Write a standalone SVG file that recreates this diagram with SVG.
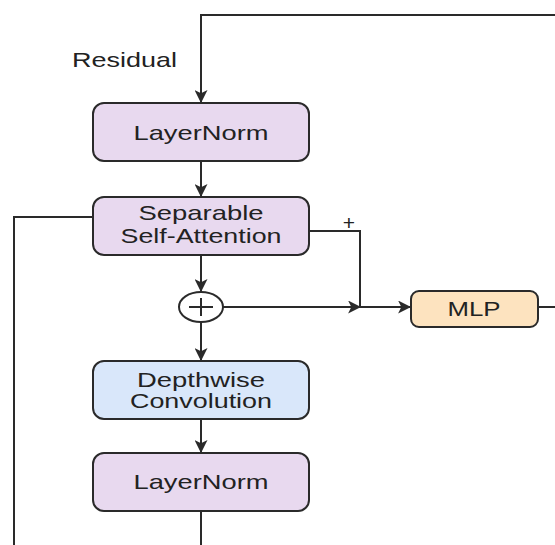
<svg xmlns="http://www.w3.org/2000/svg" width="555" height="545" viewBox="0 0 555 545">
<style>
.box{stroke:#2a2a2a;stroke-width:2}
.ln{fill:#e8d9ef}
.dw{fill:#d9e7fa}
.mlp{fill:#fde3bf}
.t{font-family:"Liberation Sans",Arial,sans-serif;font-size:21px;fill:#222222;text-anchor:middle}
.c{fill:none;stroke:#2a2a2a;stroke-width:2}
</style>
<defs>
<marker id="ah" viewBox="0 0 12 12" refX="11" refY="6" markerWidth="13" markerHeight="13" markerUnits="userSpaceOnUse" orient="auto">
<path d="M0,0 L12,6 L0,12 L3,6 Z" fill="#2a2a2a"/>
</marker>
</defs>
<g id="connectors">
<path class="c" d="M555,15 H201 V102" marker-end="url(#ah)"/>
<path class="c" d="M201,161 V196" marker-end="url(#ah)"/>
<path class="c" d="M201,255 V291" marker-end="url(#ah)"/>
<path class="c" d="M201,322 V360" marker-end="url(#ah)"/>
<path class="c" d="M201,419 V452" marker-end="url(#ah)"/>
<path class="c" d="M201,511 V545"/>
<path class="c" d="M93,217 H14 V545"/>
<path class="c" d="M309,231 H360 V307"/>
<path class="c" d="M223,307 H360" marker-end="url(#ah)"/>
<path class="c" d="M360,307 H410" marker-end="url(#ah)"/>
<path class="c" d="M538,307 H555"/>
</g>
<g id="residual-label">
<text class="t" x="124.5" y="67" textLength="105" lengthAdjust="spacingAndGlyphs">Residual</text>
</g>
<g id="plus-label">
<text class="t" x="349" y="230" font-size="20">+</text>
</g>
<g id="layernorm1">
<rect class="box ln" x="93" y="103" width="216" height="58" rx="11"/>
<text class="t" x="201" y="140" textLength="135" lengthAdjust="spacingAndGlyphs">LayerNorm</text>
</g>
<g id="attention">
<rect class="box ln" x="93" y="197" width="216" height="58" rx="11"/>
<text class="t" x="201" y="220" textLength="125" lengthAdjust="spacingAndGlyphs">Separable</text>
<text class="t" x="201" y="243" textLength="161" lengthAdjust="spacingAndGlyphs">Self-Attention</text>
</g>
<g id="add">
<ellipse cx="201" cy="307" rx="22" ry="15" fill="#ffffff" stroke="#2a2a2a" stroke-width="2"/>
<path d="M189,307 H213 M201,298 V316" stroke="#2a2a2a" stroke-width="2" fill="none"/>
</g>
<g id="depthwise">
<rect class="box dw" x="93" y="361" width="216" height="58" rx="11"/>
<text class="t" x="201" y="387" textLength="128" lengthAdjust="spacingAndGlyphs">Depthwise</text>
<text class="t" x="201" y="408" textLength="142" lengthAdjust="spacingAndGlyphs">Convolution</text>
</g>
<g id="layernorm2">
<rect class="box ln" x="93" y="453" width="216" height="58" rx="11"/>
<text class="t" x="201" y="489" textLength="135" lengthAdjust="spacingAndGlyphs">LayerNorm</text>
</g>
<g id="mlp">
<rect class="box mlp" x="411" y="291" width="127" height="36" rx="8"/>
<text class="t" x="474" y="316" textLength="53" lengthAdjust="spacingAndGlyphs">MLP</text>
</g>
</svg>
